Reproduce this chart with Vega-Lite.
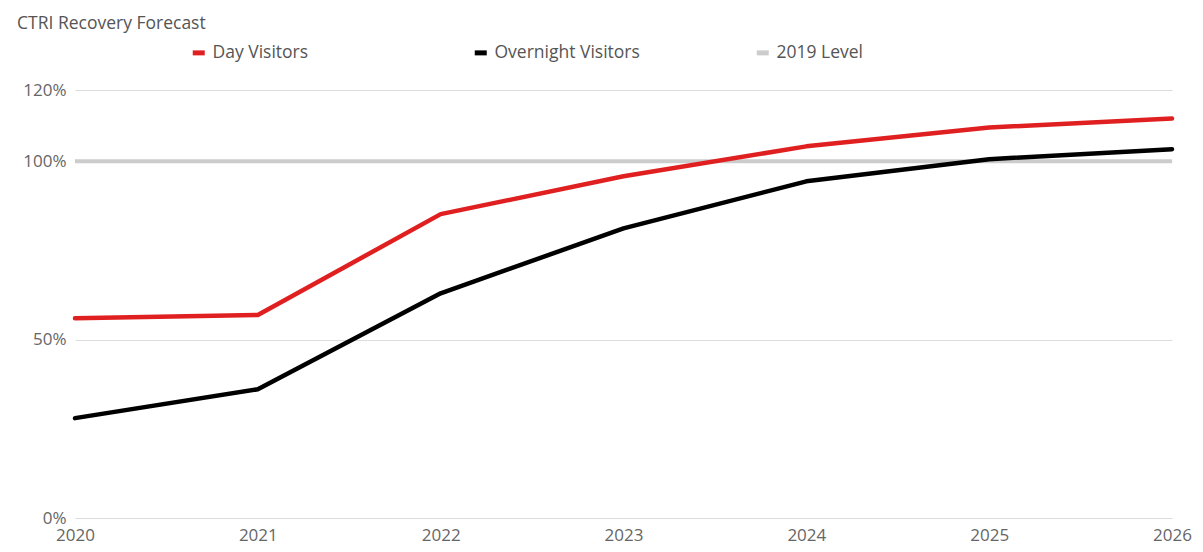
{
  "$schema": "https://vega.github.io/schema/vega-lite/v6.json",
  "width": 1097,
  "height": 428,
  "autosize": {"type": "none"},
  "padding": {"left": 75, "top": 90, "right": 31, "bottom": 34},
  "background": "white",
  "config": {
    "font": "Open Sans",
    "view": {"stroke": null}
  },
  "title": {
    "text": "CTRI Recovery Forecast",
    "anchor": "start",
    "frame": "group",
    "dx": -58,
    "fontSize": 17.5,
    "fontWeight": "normal",
    "color": "#555555",
    "font": "Open Sans",
    "offset": 12
  },
  "data": {
    "values": [
      {"series": "Day Visitors", "year": 2020, "value": 56.0},
      {"series": "Day Visitors", "year": 2021, "value": 56.9},
      {"series": "Day Visitors", "year": 2022, "value": 85.2},
      {"series": "Day Visitors", "year": 2023, "value": 95.8},
      {"series": "Day Visitors", "year": 2024, "value": 104.2},
      {"series": "Day Visitors", "year": 2025, "value": 109.5},
      {"series": "Day Visitors", "year": 2026, "value": 112.0},
      {"series": "Overnight Visitors", "year": 2020, "value": 28.0},
      {"series": "Overnight Visitors", "year": 2021, "value": 36.1},
      {"series": "Overnight Visitors", "year": 2022, "value": 63.0},
      {"series": "Overnight Visitors", "year": 2023, "value": 81.2},
      {"series": "Overnight Visitors", "year": 2024, "value": 94.4},
      {"series": "Overnight Visitors", "year": 2025, "value": 100.6},
      {"series": "Overnight Visitors", "year": 2026, "value": 103.4},
      {"series": "2019 Level", "year": 2020, "value": 100},
      {"series": "2019 Level", "year": 2026, "value": 100}
    ]
  },
  "encoding": {
    "x": {
      "field": "year",
      "type": "quantitative",
      "scale": {"domain": [2020, 2026], "nice": false, "zero": false},
      "axis": {
        "title": null,
        "values": [2020, 2021, 2022, 2023, 2024, 2025, 2026],
        "format": "d",
        "grid": false,
        "domain": false,
        "ticks": false,
        "labelFontSize": 17,
        "labelColor": "#666666",
        "labelPadding": 9,
        "labelFlush": false
      }
    },
    "y": {
      "field": "value",
      "type": "quantitative",
      "scale": {"domain": [0, 120], "nice": false},
      "axis": {
        "title": null,
        "values": [0, 50, 100, 120],
        "labelExpr": "datum.value + '%'",
        "grid": true,
        "gridColor": "#dddddd",
        "gridWidth": 1.2,
        "domain": false,
        "ticks": false,
        "labelFontSize": 17,
        "labelColor": "#666666",
        "labelPadding": 9
      }
    },
    "color": {
      "field": "series",
      "type": "nominal",
      "scale": {
        "domain": ["Day Visitors", "Overnight Visitors", "2019 Level"],
        "range": ["#e02020", "#000000", "#cccccc"]
      },
      "legend": {
        "title": null,
        "orient": "none",
        "direction": "horizontal",
        "columns": 3,
        "gridAlign": "all",
        "columnPadding": 106,
        "legendX": 115,
        "legendY": -46,
        "symbolType": "stroke",
        "symbolStrokeWidth": 5,
        "symbolSize": 144,
        "labelFontSize": 17.5,
        "labelColor": "#555555",
        "labelOffset": 5,
        "labelLimit": 300
      }
    }
  },
  "layer": [
    {
      "transform": [{"filter": "datum.series === '2019 Level'"}],
      "mark": {"type": "line", "strokeWidth": 4}
    },
    {
      "transform": [{"filter": "datum.series !== '2019 Level'"}],
      "mark": {"type": "line", "strokeWidth": 4.5, "strokeCap": "round", "strokeJoin": "round"}
    }
  ]
}
